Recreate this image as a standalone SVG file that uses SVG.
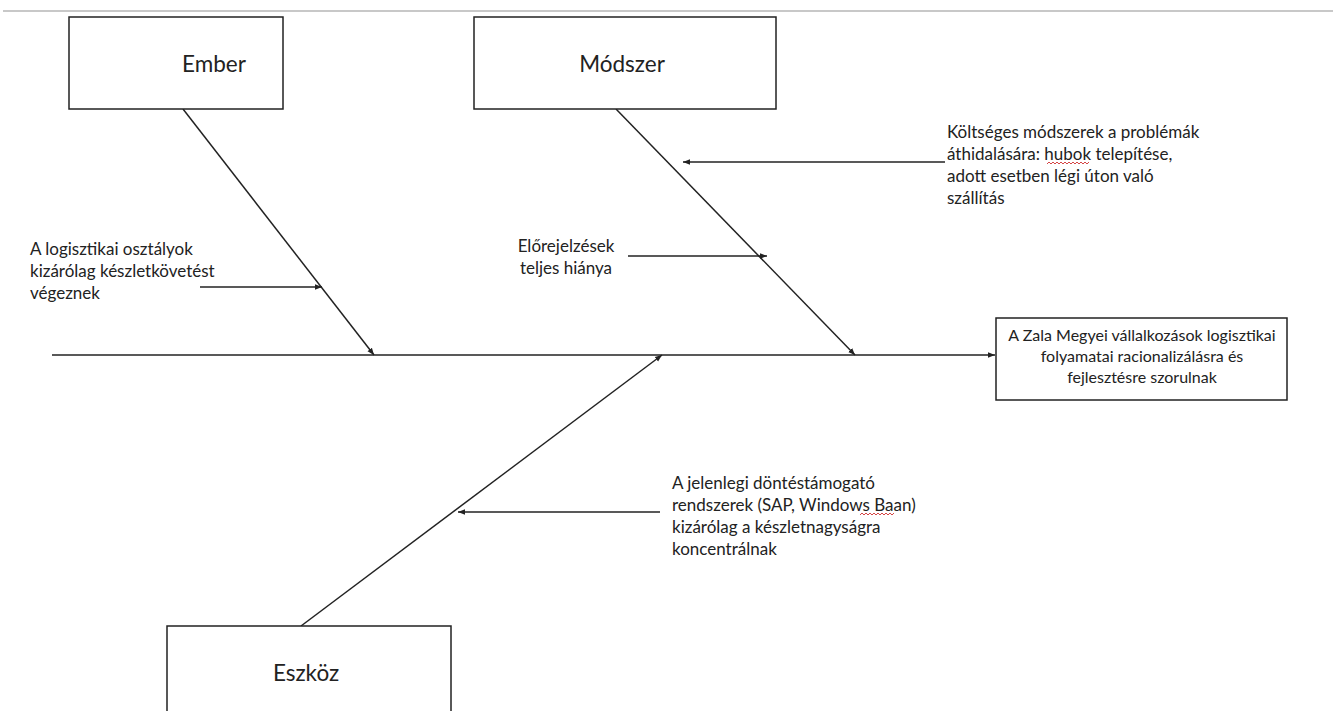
<svg xmlns="http://www.w3.org/2000/svg" width="1333" height="711" viewBox="0 0 1333 711">
  <style>
    .box { fill: #fff; stroke: #222; stroke-width: 1.5; }
    .bone { stroke: #222; stroke-width: 1.5; fill: none; marker-end: url(#head); }
    .title { font-family: Lato, "Open Sans", sans-serif; font-size: 22.5px; fill: #222; text-anchor: middle; }
    .note { font-family: Lato, "Open Sans", sans-serif; font-size: 17px; fill: #222; }
    .effect { font-family: Lato, "Open Sans", sans-serif; font-size: 16px; fill: #222; text-anchor: middle; }
    .squiggle { fill: none; stroke: #d03030; stroke-width: 0.9; }
  </style>
  <defs>
    <marker id="head" viewBox="0 0 10 10" refX="10" refY="5" markerWidth="7" markerHeight="7" markerUnits="userSpaceOnUse" orient="auto">
      <path d="M0,1 L10,5 L0,9 Z" fill="#222"/>
    </marker>
  </defs>
  <rect width="1333" height="711" fill="#fff"/>
  <line x1="3" y1="11" x2="1333" y2="11" stroke="#c8c8c8" stroke-width="2"/>

  <g id="connectors">
    <line class="bone" x1="52" y1="355" x2="995" y2="355"/>
    <line class="bone" x1="183" y1="109" x2="374" y2="355"/>
    <line class="bone" x1="616" y1="109" x2="855" y2="355"/>
    <line class="bone" x1="301" y1="626" x2="662" y2="355"/>
    <line class="bone" x1="200" y1="287" x2="322" y2="287"/>
    <line class="bone" x1="628" y1="256" x2="767" y2="256"/>
    <line class="bone" x1="945" y1="162" x2="683" y2="162"/>
    <line class="bone" x1="660" y1="512" x2="458" y2="512"/>
  </g>

  <g id="ember">
    <rect class="box" x="69" y="17" width="214" height="92"/>
    <text class="title" x="214" y="72">Ember</text>
  </g>

  <g id="modszer">
    <rect class="box" x="474" y="17" width="302" height="92"/>
    <text class="title" x="622" y="72">Módszer</text>
  </g>

  <g id="eszkoz">
    <rect class="box" x="167" y="626" width="284" height="100"/>
    <text class="title" x="306" y="681">Eszköz</text>
  </g>

  <g id="effect">
    <rect class="box" x="996" y="318" width="291" height="82"/>
    <text class="effect" x="1142" y="341">A Zala Megyei vállalkozások logisztikai</text>
    <text class="effect" x="1142" y="362">folyamatai racionalizálásra és</text>
    <text class="effect" x="1142" y="383">fejlesztésre szorulnak</text>
  </g>

  <g id="cause-ember">
    <text class="note" x="30" y="255">A logisztikai osztályok</text>
    <text class="note" x="30" y="277">kizárólag készletkövetést</text>
    <text class="note" x="30" y="299">végeznek</text>
  </g>

  <g id="cause-elorejelzes">
    <text class="note" x="566" y="252" text-anchor="middle">Előrejelzések</text>
    <text class="note" x="566" y="274" text-anchor="middle">teljes hiánya</text>
  </g>

  <g id="cause-koltseges">
    <text class="note" x="947" y="138">Költséges módszerek a problémák</text>
    <text class="note" x="947" y="160">áthidalására: hubok telepítése,</text>
    <text class="note" x="947" y="182">adott esetben légi úton való</text>
    <text class="note" x="947" y="204">szállítás</text>
    <!-- spell-check squiggle under "hubok" -->
    <path class="squiggle" d="M1047,164 l2,-2 l2,2 l2,-2 l2,2 l2,-2 l2,2 l2,-2 l2,2 l2,-2 l2,2 l2,-2 l2,2 l2,-2 l2,2 l2,-2 l2,2 l2,-2 l2,2 l2,-2 l2,2 l2,-2"/>
  </g>

  <g id="cause-dontestamogato">
    <text class="note" x="672" y="489">A jelenlegi döntéstámogató</text>
    <text class="note" x="672" y="511">rendszerek (SAP, Windows Baan)</text>
    <text class="note" x="672" y="533">kizárólag a készletnagyságra</text>
    <text class="note" x="672" y="555">koncentrálnak</text>
    <!-- spell-check squiggle under "Baan" -->
    <path class="squiggle" d="M860,515 l2,-2 l2,2 l2,-2 l2,2 l2,-2 l2,2 l2,-2 l2,2 l2,-2 l2,2 l2,-2 l2,2 l2,-2 l2,2 l2,-2 l2,2 l2,-2"/>
  </g>
</svg>
